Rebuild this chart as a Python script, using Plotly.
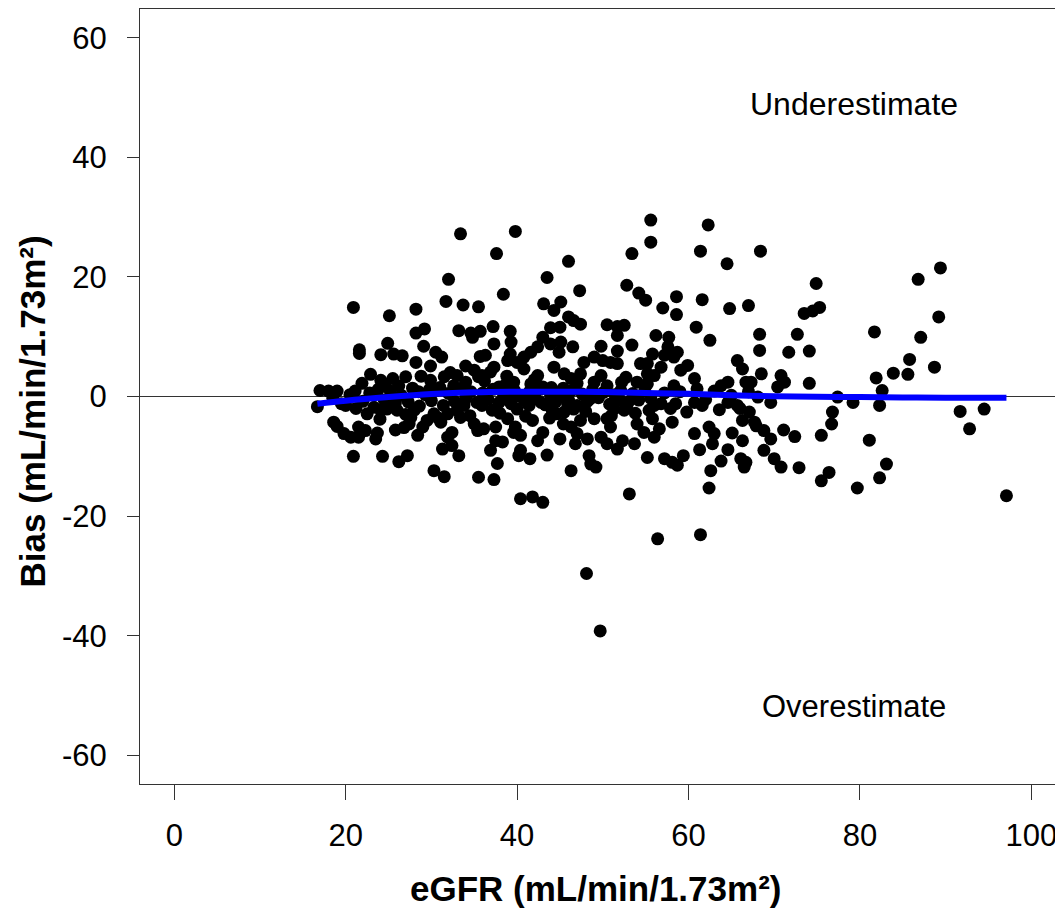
import plotly.graph_objects as go

# ---- data: (eGFR, bias) pairs, grouped by region ----
pts_left_upper = [
    (33.4, 27.2), (32.0, 19.6), (31.7, 15.9), (33.7, 15.3), (35.5, 15.0), (20.9, 14.9),
    (25.1, 13.5), (28.2, 14.6), (29.2, 11.3), (28.2, 10.6), (33.2, 11.0), (34.6, 10.6),
    (34.8, 9.9), (21.6, 7.8), (21.6, 7.2), (24.9, 8.9), (24.1, 7.0), (25.6, 7.1),
    (26.6, 6.8), (29.1, 8.4), (30.5, 7.4), (31.2, 6.6), (28.2, 5.7), (29.9, 5.1),
    (35.7, 6.7), (34.0, 5.1), (22.9, 3.7), (24.1, 2.7), (24.6, 1.8), (21.9, 2.2),
    (21.1, 0.9), (27.0, 3.3), (26.2, 1.8), (17.0, 1.0), (18.0, 0.9), (19.0, 0.9),
    (29.9, 2.7), (31.5, 3.3), (33.0, 3.5), (34.0, 2.4), (32.6, 1.8), (35.5, 3.3),
    (28.5, 0.8), (29.8, 1.2), (31.0, 1.5),
]
pts_left_lower = [
    (16.7, -1.7), (18.6, -4.3), (19.0, -5.0), (19.8, -6.2), (20.6, -6.8), (21.5, -5.1),
    (22.3, -5.7), (21.5, -6.8), (23.7, -6.1), (23.5, -7.1), (20.0, -1.5), (22.5, -2.9),
    (24.1, -2.3), (24.8, -2.1), (26.0, -2.3), (28.0, -2.3), (27.6, -3.5), (25.8, -5.6),
    (26.8, -5.2), (27.4, -4.6), (28.4, -6.5), (29.0, -5.1), (29.5, -4.0), (30.3, -2.9),
    (31.1, -4.3), (31.9, -2.9), (33.0, -2.3), (33.8, -1.5), (33.4, -3.5), (32.4, -6.0),
    (31.9, -6.8), (31.3, -8.8), (32.4, -8.2), (33.2, -9.9), (35.0, -4.6), (35.4, -5.7),
    (20.9, -10.0), (24.3, -10.0), (26.2, -10.9), (27.2, -9.9), (30.3, -12.4), (31.5, -13.4),
    (35.5, -13.5),
]
pts_mid_upper = [
    (39.8, 27.6), (37.6, 23.9), (46.0, 22.6), (53.4, 23.9), (55.6, 29.5), (55.6, 25.8),
    (43.5, 19.9), (47.3, 17.7), (38.4, 17.1), (43.1, 15.5), (45.1, 15.8), (44.3, 14.4),
    (52.8, 18.6), (54.2, 17.3), (55.0, 16.1), (46.0, 13.3), (47.4, 12.1), (46.6, 12.7),
    (50.5, 12.0), (51.7, 11.7), (52.5, 11.9), (51.7, 10.2), (37.2, 11.7), (35.7, 10.9),
    (39.2, 10.9), (43.9, 11.5), (45.0, 11.6), (43.0, 9.9), (43.9, 8.8), (45.1, 9.1),
    (46.5, 8.3), (44.9, 7.4), (53.4, 8.6), (49.8, 8.4), (51.7, 7.6), (37.3, 8.8),
    (39.3, 9.1), (39.2, 7.1), (36.3, 6.9), (41.6, 7.4), (42.4, 8.3), (40.8, 6.6),
    (40.0, 5.7), (38.9, 6.0), (49.0, 6.6), (50.0, 6.0), (50.9, 5.7), (51.7, 5.5),
    (47.8, 5.7), (54.4, 5.5), (35.9, 3.5), (36.9, 4.1), (37.3, 4.9), (35.0, 4.4),
    (40.8, 4.6), (42.4, 3.5), (44.3, 4.9), (45.5, 3.8), (46.3, 3.0), (47.4, 3.8),
    (39.6, 2.4), (41.6, 2.1), (38.5, 1.8), (37.9, 1.6), (49.0, 2.4), (50.5, 1.8),
    (52.7, 3.2), (54.0, 2.4), (55.2, 3.8), (55.2, 2.1), (44.0, 1.5), (45.4, 1.4),
    (43.0, 1.6),
]
pts_mid_lower = [
    (35.9, -1.5), (37.1, -2.3), (36.1, -5.4), (37.5, -5.1), (37.5, -7.4), (38.3, -7.6),
    (36.9, -9.0), (37.7, -11.2), (37.3, -13.9), (39.3, -1.2), (40.0, -2.1), (38.9, -3.7),
    (39.8, -5.1), (40.4, -6.5), (39.6, -6.0), (40.4, -9.0), (40.2, -9.9), (41.5, -10.4),
    (43.5, -9.8), (40.4, -17.1), (41.8, -16.8), (43.0, -17.7), (41.4, -1.5), (42.8, -1.0),
    (44.1, -2.3), (41.8, -4.0), (43.0, -6.0), (42.4, -7.4), (45.0, -7.1), (45.4, -4.6),
    (44.6, -2.9), (46.3, -12.4), (45.9, -1.2), (46.6, -2.1), (47.4, -4.0), (46.3, -5.1),
    (47.0, -6.2), (48.2, -7.1), (46.8, -7.9), (48.4, -9.9), (49.2, -11.8), (48.6, -11.3),
    (49.0, -3.7), (49.8, -6.8), (50.5, -7.9), (50.9, -5.1), (50.5, -3.7), (51.3, -2.1),
    (52.5, -2.3), (51.7, -8.8), (52.3, -7.4), (53.7, -7.9), (53.1, -16.3), (54.0, -4.6),
    (54.8, -6.0), (55.2, -10.2), (55.4, -2.3), (52.0, -0.6), (53.0, -0.9), (48.5, -0.4),
    (46.0, -0.6), (44.0, -0.6), (48.1, -29.6), (49.7, -39.2),
]
pts_right_upper = [
    (62.3, 28.7), (61.4, 24.3), (68.4, 24.3), (64.5, 22.2), (74.9, 18.9), (58.6, 16.7),
    (61.6, 16.2), (57.0, 14.8), (58.6, 13.7), (64.8, 14.7), (67.0, 15.2), (73.5, 13.9),
    (74.5, 14.3), (75.3, 14.9), (60.9, 11.6), (62.5, 9.4), (56.2, 10.2), (57.7, 9.9),
    (57.6, 8.3), (58.7, 7.4), (68.3, 10.4), (68.3, 7.7), (72.7, 10.4), (71.7, 7.4),
    (74.1, 7.6), (55.8, 7.1), (57.2, 6.9), (58.3, 6.6), (55.2, 5.5), (56.8, 4.9),
    (59.9, 5.2), (59.1, 4.4), (60.7, 3.0), (56.0, 3.5), (58.3, 1.8), (65.7, 6.0),
    (66.3, 4.6), (66.7, 2.4), (67.3, 2.4), (63.8, 1.8), (64.6, 2.4), (68.5, 3.8),
    (70.8, 3.5), (71.2, 2.4), (70.4, 1.6), (74.1, 2.2),
]
pts_right_lower = [
    (56.4, -23.8), (61.4, -23.1), (56.0, -1.5), (56.8, -1.2), (55.8, -3.7), (56.6, -5.4),
    (56.0, -6.8), (58.5, -1.2), (58.1, -4.3), (60.7, -1.0), (61.6, -1.5), (60.7, -6.2),
    (57.2, -10.4), (58.1, -11.0), (58.7, -11.5), (59.4, -9.9), (62.4, -5.1), (63.0, -6.2),
    (62.8, -7.9), (61.3, -8.9), (62.6, -12.4), (62.4, -15.3), (64.6, -1.0), (65.7, -1.5),
    (65.1, -6.1), (66.3, -7.4), (64.6, -8.9), (63.8, -10.8), (67.1, -2.6), (66.3, -4.0),
    (67.7, -4.3), (67.9, -4.9), (66.1, -10.4), (66.5, -11.8), (66.7, -11.0), (68.1, -0.1),
    (69.6, -1.0), (68.8, -5.7), (69.6, -7.1), (68.8, -9.0), (70.0, -10.4), (70.8, -11.8),
    (71.1, -5.6), (72.4, -6.7), (72.9, -11.9), (75.5, -14.1), (75.5, -6.5),
]
pts_far_right = [
    (86.8, 19.6), (89.4, 21.5), (89.2, 13.3), (81.7, 10.8), (87.1, 9.9), (85.8, 6.2),
    (85.6, 3.7), (88.7, 4.9), (83.9, 3.9), (81.9, 3.1), (82.6, 1.0), (77.4, -0.1),
    (79.2, -1.0), (82.3, -1.5), (76.8, -2.6), (76.7, -4.6), (81.1, -7.3), (83.1, -11.3),
    (82.3, -13.6), (76.4, -12.7), (79.7, -15.3), (91.7, -2.5), (94.5, -2.1), (92.8, -5.4),
    (97.1, -16.6),
]
pts_core = [
    (18.5, -0.3), (19.5, -1.2), (20.5, 0.3), (21.2, -2.0), (22.0, -0.8), (22.8, 0.6),
    (23.3, -1.8), (23.8, 1.2), (24.5, -0.6), (25.2, 0.9), (25.8, -1.1), (26.5, 0.2),
    (27.3, -0.9), (27.8, 1.4), (28.6, -1.6), (29.3, 0.3), (30.0, -0.7), (30.6, 1.0),
    (31.4, -1.5), (32.0, 0.5), (32.7, -0.8), (33.3, 1.3), (34.0, -0.3), (34.6, 0.8),
    (35.3, -1.0), (36.0, 0.6), (36.6, -0.5), (37.2, 1.2), (37.9, -1.0), (38.4, 0.4),
    (39.0, -0.3), (39.7, 1.0), (40.3, 0.0), (40.9, -0.7), (41.5, 0.9), (42.1, -0.2),
    (42.7, 1.2), (43.3, -1.4), (43.9, 0.3), (44.5, -0.9), (45.1, 0.6), (45.7, -0.2),
    (46.4, 1.0), (47.0, -1.5), (47.6, 0.4), (48.2, -0.8), (48.8, 1.1), (49.5, -0.2),
    (50.1, 0.7), (50.8, -1.3), (51.4, 0.3), (52.1, 1.0), (52.8, -1.6), (53.5, 0.5),
    (54.2, -0.6), (54.9, 0.9), (55.6, -0.3), (57.2, 0.6), (57.9, -2.0), (59.0, 0.8),
    (59.8, -2.6), (61.0, 1.3), (62.0, -0.5), (63.0, 0.9), (63.6, -2.2), (65.0, 0.2),
    (66.0, -2.0), (67.0, 0.8), (24.0, -3.8), (25.5, 3.0), (27.0, -3.0), (28.8, 3.4),
    (30.8, -3.6), (32.2, 4.0), (34.5, -3.2), (36.2, 2.6), (38.0, -2.8), (38.8, 3.4),
    (41.0, -3.3), (42.0, 2.8), (43.8, -3.6), (45.5, -2.6), (47.0, 2.2), (48.0, -2.5),
    (49.8, 3.5), (51.0, -3.2), (52.2, 2.4), (53.8, -2.8),
]

# smoothed (loess) trend line
trend_x = [16.7, 20, 25, 30, 35, 40, 45, 50, 55, 60, 65, 70, 75, 80, 85, 90, 97.1]
trend_y = [-1.2, -0.7, -0.1, 0.4, 0.7, 0.8, 0.8, 0.75, 0.6, 0.45, 0.2, 0.05, -0.05, -0.1, -0.15, -0.2, -0.2]

x_ticks = [0, 20, 40, 60, 80, 100]
y_ticks = [-60, -40, -20, 0, 20, 40, 60]

all_pts = (pts_left_upper + pts_left_lower + pts_mid_upper + pts_mid_lower
           + pts_right_upper + pts_right_lower + pts_far_right + pts_core)
egfr = [p[0] for p in all_pts]
bias = [p[1] for p in all_pts]

FONT = "Liberation Sans, Arial, sans-serif"

fig = go.Figure()
fig.add_trace(go.Scatter(
    x=egfr, y=bias, mode="markers",
    marker=dict(color="black", size=13, line=dict(width=0)),
    hoverinfo="x+y",
))
fig.add_trace(go.Scatter(
    x=trend_x, y=trend_y, mode="lines",
    line=dict(color="#0000FF", width=6, shape="spline"),
))

# the page adds an 8px body margin, so the figure is 8px smaller and margins shifted
fig.update_layout(
    width=1055, height=900,
    margin=dict(l=132, r=0, t=1, b=124),
    paper_bgcolor="white", plot_bgcolor="white",
    showlegend=False,
    font=dict(family=FONT, color="black"),
    xaxis=dict(
        range=[-4, 103.7], tickvals=x_ticks, ticktext=[str(v) for v in x_ticks],
        ticks="outside", ticklen=15, tickwidth=1, tickcolor="#333",
        showline=True, linecolor="#333", linewidth=1, mirror=True,
        showgrid=False, zeroline=False,
        tickfont=dict(size=31, family=FONT, color="black"),
        ticklabelstandoff=9,
    ),
    yaxis=dict(
        range=[-64.8, 64.8], tickvals=y_ticks, ticktext=[str(v) for v in y_ticks],
        ticks="outside", ticklen=12, tickwidth=1, tickcolor="#333",
        showline=True, linecolor="#333", linewidth=1, mirror=False,
        showgrid=False, zeroline=True, zerolinecolor="#333", zerolinewidth=1,
        tickfont=dict(size=31, family=FONT, color="black"),
        ticklabelstandoff=14,
    ),
    annotations=[
        dict(text="Underestimate", x=79.3, y=48.9, xref="x", yref="y",
             showarrow=False, font=dict(size=32, family=FONT, color="black")),
        dict(text="Overestimate", x=79.3, y=-51.9, xref="x", yref="y",
             showarrow=False, font=dict(size=31, family=FONT, color="black")),
        dict(text="<b>eGFR (mL/min/1.73m²)</b>", x=49.2, xref="x", y=0, yref="paper",
             yanchor="middle", yshift=-104, showarrow=False,
             font=dict(size=35, family=FONT, color="black")),
        dict(text="<b>Bias (mL/min/1.73m²)</b>", x=0, xref="paper", xanchor="center",
             xshift=-108, y=-2.5, yref="y", textangle=-90, showarrow=False,
             font=dict(size=35, family=FONT, color="black")),
    ],
)

fig.write_html("out.html")
